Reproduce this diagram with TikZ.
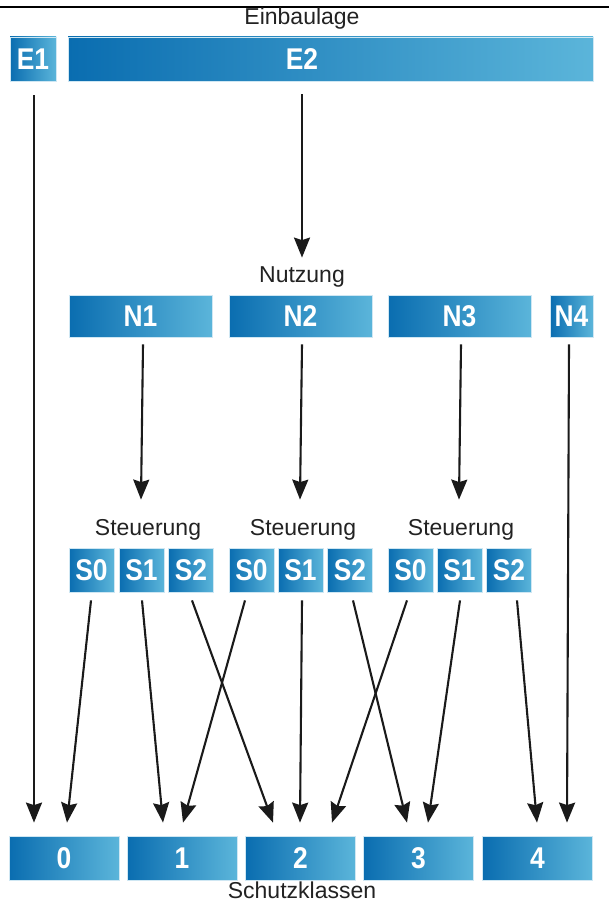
\documentclass[tikz,border=0pt]{standalone}
\usepackage{fontspec}
\setmainfont{Liberation Sans}
\newfontfamily\boxfont[FakeStretch=0.88]{Liberation Sans}
\usetikzlibrary{arrows.meta,calc}

\definecolor{bluedark}{HTML}{0A6DB0}
\definecolor{bluelight}{HTML}{5BB5DA}
\definecolor{boxedge}{HTML}{CFE7F3}
\definecolor{arrowcol}{HTML}{1A1A1A}
\definecolor{labelcol}{HTML}{222222}

\tikzset{
  box/.style={draw=boxedge, line width=0.8pt, left color=bluedark, right color=bluelight,
    inner sep=0pt, minimum height=44pt, text=white,
    font=\boxfont\bfseries\fontsize{30}{30}\selectfont},
  boxtext/.style={text=white, inner sep=0pt, font=\boxfont\bfseries\fontsize{30}{30}\selectfont},
  sbox/.style={box, minimum width=45pt},
  nbox/.style={box, minimum width=143pt, minimum height=42pt},
  kbox/.style={box, minimum width=110pt},
  heading/.style={text=labelcol, inner sep=0pt, anchor=base, font=\fontsize{23}{23}\selectfont},
  arr/.style={draw=arrowcol, line width=2.1pt, -{Stealth[length=20pt,width=16pt,inset=2.5pt]}}
}

\begin{document}
\begin{tikzpicture}[x=1pt,y=-1pt]
\useasboundingbox (0,0) rectangle (609,904);

% rule across the top
\draw[line width=2.2pt, black] (0,7) -- (609,7);

% Einbaulage
\node[heading] (hEin) at (302,25) {Einbaulage};
\node[box, minimum width=46pt] (E1) at (33,59) {E1};
\node[box, minimum width=525pt, label={[boxtext, xshift=-28.5pt]center:E2}] (E2) at (330.5,59) {};

% Nutzung
\node[heading] (hNutz) at (302,282) {Nutzung};
\node[nbox] (N1) at (140.5,316) {N1};
\node[nbox] (N2) at (300.5,316) {N2};
\node[nbox] (N3) at (459.5,316) {N3};
\node[box, minimum width=43pt, minimum height=42pt] (N4) at (571.5,316) {N4};

% Steuerung
\node[heading] (hSa) at (148,535) {Steuerung};
\node[heading] (hSb) at (303,535) {Steuerung};
\node[heading] (hSc) at (461,535) {Steuerung};

\node[sbox] (Sa0) at (91.5,570) {S0};
\node[sbox] (Sa1) at (141.5,570) {S1};
\node[sbox] (Sa2) at (191,570) {S2};
\node[sbox] (Sb0) at (251.5,570) {S0};
\node[sbox] (Sb1) at (300.5,570) {S1};
\node[sbox] (Sb2) at (350,570) {S2};
\node[sbox] (Sc0) at (410.5,570) {S0};
\node[sbox] (Sc1) at (459.5,570) {S1};
\node[sbox] (Sc2) at (509,570) {S2};

% Schutzklassen
\node[kbox] (K0) at (64,858) {0};
\node[kbox] (K1) at (182,858) {1};
\node[kbox] (K2) at (300.5,858) {2};
\node[kbox] (K3) at (418.5,858) {3};
\node[kbox] (K4) at (537.5,858) {4};
\node[heading] (hSchutz) at (302,898) {Schutzklassen};

% connectors
\draw[arr] ($(E1.south)+(1,14)$) -- ($(K0.north)+(-30,-13)$);
\draw[arr] ($(E2.south)+(-28.5,13)$) -- ($(N2.north)+(1.5,-37)$);

\draw[arr] ($(N1.south)+(2.5,7)$) -- ($(Sa1.north)+(-0.5,-48)$);
\draw[arr] ($(N2.south)+(1.5,7)$) -- ($(Sb1.north)+(-0.5,-48)$);
\draw[arr] ($(N3.south)+(1.5,7)$) -- ($(Sc1.north)+(-0.5,-48)$);
\draw[arr] ($(N4.south)+(-2.5,7)$) -- ($(K4.north)+(29.5,-13)$);

\draw[arr] ($(Sa0.south)+(-0.5,8)$) -- ($(K0.north)+(3,-13)$);
\draw[arr] ($(Sa1.south)+(0.5,8)$) -- ($(K1.north)+(-19,-13)$);
\draw[arr] ($(Sa2.south)+(1,8)$) -- ($(K2.north)+(-27.5,-13)$);
\draw[arr] ($(Sb0.south)+(-6.5,8)$) -- ($(K1.north)+(1,-13)$);
\draw[arr] ($(Sb1.south)+(1.5,8)$) -- ($(K2.north)+(-0.5,-13)$);
\draw[arr] ($(Sb2.south)+(3,8)$) -- ($(K3.north)+(-11.5,-13)$);
\draw[arr] ($(Sc0.south)+(-3.5,8)$) -- ($(K2.north)+(31.5,-13)$);
\draw[arr] ($(Sc1.south)+(0.5,8)$) -- ($(K3.north)+(9.5,-13)$);
\draw[arr] ($(Sc2.south)+(8,8)$) -- ($(K4.north)+(-0.5,-13)$);
\end{tikzpicture}
\end{document}
